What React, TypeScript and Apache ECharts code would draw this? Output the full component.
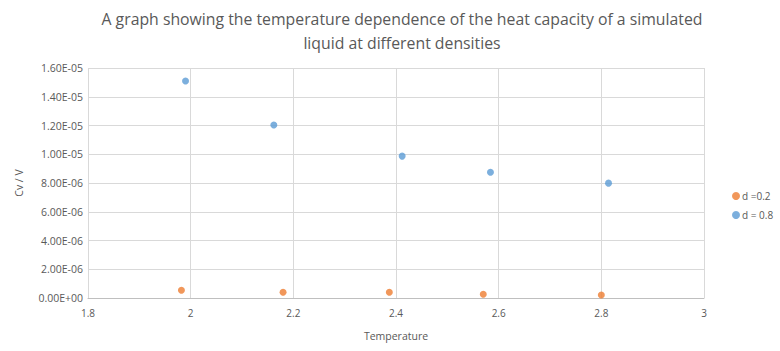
import React, { useEffect, useRef } from "react";
import * as echarts from "echarts";

const titleText = "A graph showing the temperature dependence of the heat capacity of a simulated\nliquid at different densities";
const seriesNames = ["d =0.2", "d = 0.8"];
const tempLow = [1.982, 2.18, 2.387, 2.57, 2.8];
const cvLow = [5.4e-7, 4.0e-7, 4.0e-7, 2.6e-7, 2.1e-7];
const tempHigh = [1.99, 2.162, 2.412, 2.584, 2.814];
const cvHigh = [1.509e-5, 1.203e-5, 9.87e-6, 8.75e-6, 7.99e-6];
const colors = ["#ED7D31", "#5B9BD5"];

function sci(v: number): string {
  if (v === 0) return "0.00E+00";
  let e = Math.floor(Math.log10(Math.abs(v)));
  let m = v / Math.pow(10, e);
  let ms = m.toFixed(2);
  if (parseFloat(ms) >= 10) {
    e += 1;
    ms = (v / Math.pow(10, e)).toFixed(2);
  }
  const sign = e < 0 ? "-" : "+";
  const ae = Math.abs(e);
  return ms + "E" + sign + (ae < 10 ? "0" + ae : String(ae));
}

export default function App() {
  const ref = useRef<HTMLDivElement>(null);
  useEffect(() => {
    if (!ref.current) return;
    const chart = echarts.init(ref.current, null, { renderer: "svg" });
    const font = "Open Sans";
    chart.setOption({
      animation: false,
      textStyle: { fontFamily: font },
      title: {
        text: titleText,
        left: 397,
        textAlign: "center",
        top: 2,
        textStyle: { fontFamily: font, fontSize: 15.8, fontWeight: "normal", color: "#595959", lineHeight: 24 },
      },
      grid: { left: 88, top: 68, right: 76, bottom: 53, containLabel: false },
      legend: {
        orient: "vertical",
        left: 727,
        top: 186,
        itemWidth: 8,
        itemHeight: 8,
        itemGap: 9,
        icon: "circle",
        textStyle: { fontFamily: font, fontSize: 10, color: "#595959", padding: [0, 0, 0, -3] },
        data: seriesNames,
      },
      xAxis: {
        type: "value",
        min: 1.8,
        max: 3,
        interval: 0.2,
        name: "Temperature",
        nameLocation: "middle",
        nameGap: 32,
        nameTextStyle: { fontFamily: font, fontSize: 10.5, color: "#595959" },
        axisLine: { show: true, lineStyle: { color: "#BFBFBF" } },
        axisTick: { show: false },
        axisLabel: {
          fontFamily: font,
          fontSize: 10,
          color: "#595959",
          margin: 10,
          formatter: (v: number) => String(parseFloat(v.toFixed(1))),
        },
        splitLine: { show: true, lineStyle: { color: "#D9D9D9" } },
      },
      yAxis: {
        type: "value",
        min: 0,
        max: 1.6e-5,
        interval: 2e-6,
        name: "Cv / V",
        nameLocation: "middle",
        nameGap: 64,
        nameRotate: 90,
        nameTextStyle: { fontFamily: font, fontSize: 10.5, color: "#595959" },
        axisLine: { show: false },
        axisTick: { show: false },
        axisLabel: { fontFamily: font, fontSize: 10.5, color: "#595959", margin: 5, formatter: (v: number) => sci(v) },
        splitLine: { show: true, lineStyle: { color: "#D9D9D9" } },
      },
      series: [
        {
          name: seriesNames[0],
          type: "scatter",
          symbolSize: 7,
          itemStyle: { color: colors[0] },
          data: tempLow.map((t, i) => [t, cvLow[i]]),
        },
        {
          name: seriesNames[1],
          type: "scatter",
          symbolSize: 7,
          itemStyle: { color: colors[1] },
          data: tempHigh.map((t, i) => [t, cvHigh[i]]),
        },
      ],
    });
    return () => chart.dispose();
  }, []);
  return <div ref={ref} style={{ width: 780, height: 351, position: "absolute", left: 0, top: 0 }} />;
}
